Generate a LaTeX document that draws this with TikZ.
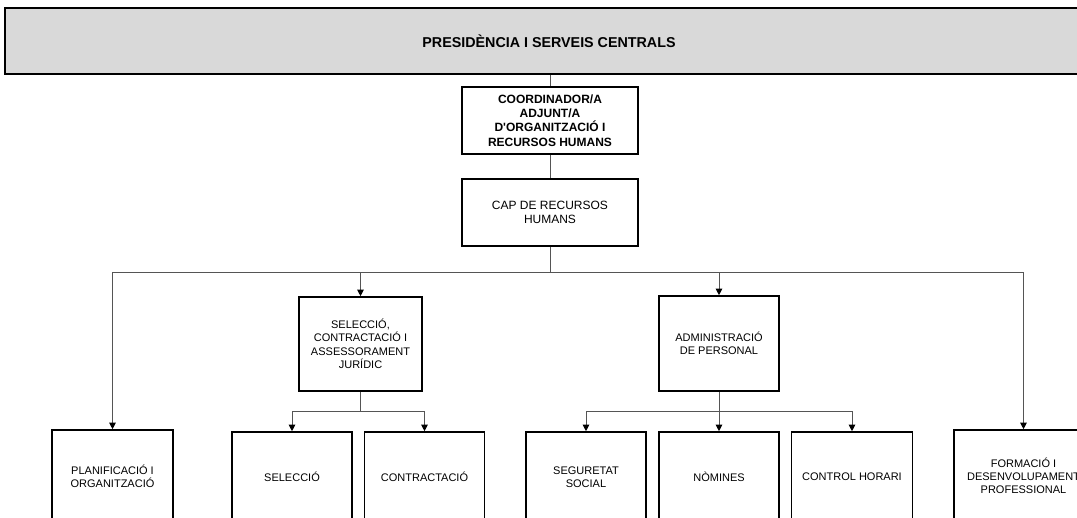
\documentclass[tikz,border=0pt]{standalone}
\usepackage{fontspec}
\setmainfont{Liberation Sans}
\usetikzlibrary{arrows.meta,calc}
\definecolor{bannergray}{HTML}{D9D9D9}
\definecolor{conncol}{HTML}{555555}
\tikzset{
  box/.style={draw=black, line width=1.6pt, inner sep=0pt, align=center, font=\fontsize{11}{13.5}\selectfont},
  topbox/.style={box, font=\fontsize{12}{14.2}\selectfont},
  boldbox/.style={box, font=\bfseries\fontsize{12}{14.4}\selectfont},
  leafbox/.style={box, font=\fontsize{11}{12.8}\selectfont},
  conn/.style={draw=conncol, line width=1pt},
  arr/.style={conn, -{Triangle[width=6.5pt,length=6.5pt,color=black]}}
}
\begin{document}
\begin{tikzpicture}[x=1pt,y=-1pt]
\useasboundingbox (0,0) rectangle (1077,518);
\clip (0,0) rectangle (1077,518);
% banner
\node[draw=black, line width=1.6pt, fill=bannergray, inner sep=0pt,
      minimum width=1090pt, minimum height=66pt] (pres) at (550,41) {};
\node[font=\bfseries\fontsize{14.3}{16}\selectfont] (prestext) at (549,41.5) {PRESIDÈNCIA I SERVEIS CENTRALS};
% level 1
\node[boldbox, minimum width=176pt, minimum height=67pt] (coord) at (550,120.5)
  {COORDINADOR/A\\ADJUNT/A\\D\textquotesingle ORGANITZACIÓ I\\RECURSOS HUMANS};
\node[topbox, minimum width=176pt, minimum height=67pt] (cap) at (550,212.5)
  {CAP DE RECURSOS\\HUMANS};
% level 2
\node[box, minimum width=123pt, minimum height=94pt] (selcon) at (360.5,344)
  {SELECCIÓ,\\CONTRACTACIÓ I\\ASSESSORAMENT\\JURÍDIC};
\node[box, minimum width=120pt, minimum height=95pt] (admin) at (719,343.5)
  {ADMINISTRACIÓ\\DE PERSONAL};
% leaves
\node[leafbox, minimum width=121pt, minimum height=92pt] (planif) at (112.5,476)
  {PLANIFICACIÓ I\\ORGANITZACIÓ};
\node[leafbox, minimum width=120pt, minimum height=90pt] (selec) at (292,477)
  {SELECCIÓ};
\node[leafbox, minimum width=120pt, minimum height=90pt] (contr) at (424.5,477)
  {CONTRACTACIÓ};
\node[leafbox, minimum width=120pt, minimum height=90pt] (segur) at (586,477)
  {SEGURETAT\\SOCIAL};
\node[leafbox, minimum width=120pt, minimum height=90pt] (nomin) at (719,477)
  {NÒMINES};
\node[leafbox, minimum width=121pt, minimum height=90pt] (ctrl) at (852,477)
  {CONTROL HORARI};
\node[leafbox, minimum width=139pt, minimum height=92pt] (form) at (1023.5,476)
  {FORMACIÓ I\\DESENVOLUPAMENT\\PROFESSIONAL};
% connectors
\draw[conn] (pres.south -| coord.north) -- (coord.north);
\draw[conn] (coord.south) -- (cap.north);
\path (cap.south) ++(0,26) coordinate (bus1);
\draw[conn] (cap.south) -- (bus1);
\draw[arr] (bus1) -| (planif.north);
\draw[arr] (bus1) -| (selcon.north);
\draw[arr] (bus1) -| (admin.north);
\draw[arr] (bus1) -| (form.north);
\path (selcon.south) ++(0,20) coordinate (bus2);
\draw[conn] (selcon.south) -- (bus2);
\draw[arr] (bus2) -| (selec.north);
\draw[arr] (bus2) -| (contr.north);
\path (admin.south) ++(0,20) coordinate (bus3);
\draw[arr] (admin.south) -- (nomin.north);
\draw[arr] (bus3) -| (segur.north);
\draw[arr] (bus3) -| (ctrl.north);
\end{tikzpicture}
\end{document}
